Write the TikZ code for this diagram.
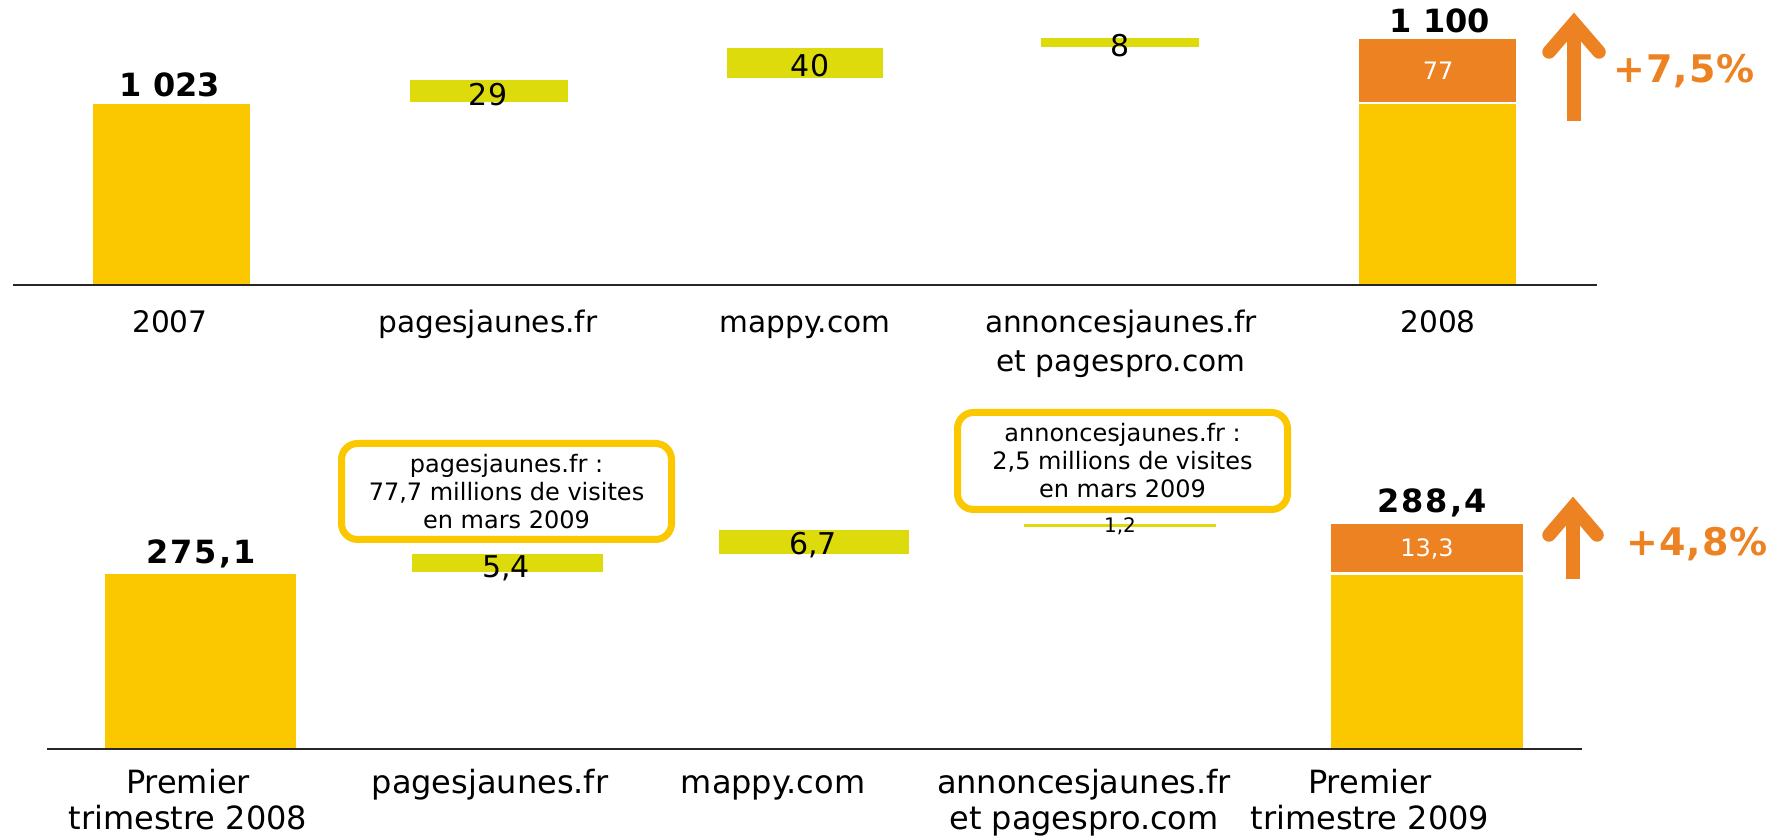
\documentclass[tikz,border=0pt]{standalone}
\usepackage{fontspec}
\setmainfont{DejaVu Sans}
\newfontfamily\spacedfont[LetterSpace=6]{DejaVu Sans}
\newfontfamily\pctfont[LetterSpace=3]{DejaVu Sans}
\definecolor{barYellow}{RGB}{251,200,0}
\definecolor{barLime}{RGB}{222,219,12}
\definecolor{barOrange}{RGB}{237,130,34}
\tikzset{
  catlabel/.style={anchor=base, align=center, inner sep=0pt, font=\fontsize{14.8}{19.5}\selectfont},
  catlabelb/.style={anchor=base, align=center, inner sep=0pt, font=\fontsize{16}{18}\selectfont},
  deltaval/.style={anchor=base, inner sep=0pt, font=\fontsize{15}{18}\selectfont},
  smallval/.style={anchor=base, inner sep=0pt, font=\fontsize{10}{12}\selectfont},
  totalval/.style={anchor=base, inner sep=0pt, font=\bfseries\fontsize{16}{19}\selectfont},
  totalvalsp/.style={anchor=base, inner sep=0pt, font=\spacedfont\bfseries\fontsize{16}{19}\selectfont},
  inbarval/.style={anchor=base, inner sep=0pt, text=white, font=\fontsize{12}{14}\selectfont},
  pctval/.style={anchor=base, inner sep=0pt, text=barOrange, font=\pctfont\bfseries\fontsize{19}{22}\selectfont},
  callout/.style={draw=barYellow, line width=3.5pt, rounded corners=8pt, fill=white, align=center, inner sep=0pt, font=\fontsize{12}{14}\selectfont},
  axisline/.style={line width=1.3pt, draw=black!85},
  growshaft/.style={draw=barOrange, line width=6.75pt},
  growhead/.style={draw=barOrange, line width=6.75pt, line cap=round, line join=miter},
}
\begin{document}
\begin{tikzpicture}[x=0.5pt, y=-0.5pt]
\useasboundingbox (0,0) rectangle (1775,838);
% ---------------- top chart ----------------
\fill[barYellow] (93,104) rectangle (250,284);
\fill[barLime] (410,80) rectangle (568,102);
\fill[barLime] (727,48) rectangle (883,78);
\fill[barLime] (1041,38) rectangle (1199,47);
\fill[barYellow] (1359,104) rectangle (1516,284);
\fill[barOrange] (1359,39) rectangle (1516,102);
\draw[axisline] (13,285) -- (1597,285);

\node[totalval] (t2007) at (170,97) {1 023};
\node[deltaval] (tpj) at (488,106) {29};
\node[deltaval] (tmap) at (810,77) {40};
\node[deltaval] (tann) at (1120,57) {8};
\node[inbarval] (tgrow) at (1438,80) {77};
\node[totalval] (t2008) at (1440,33) {1 100};

\coordinate (tarrowbot) at (1574,121);
\coordinate (tarrowtip) at (1574,23);
\coordinate (tarrowl) at (1549,52);
\coordinate (tarrowr) at (1599,52);
\draw[growshaft] (tarrowbot) -- ([yshift=-3pt]tarrowtip);
\draw[growhead] (tarrowl) -- (tarrowtip) -- (tarrowr);
\node[pctval] (tpct) at (1684,83) {+7,5\%};

\node[catlabel] (l2007) at (170,333) {2007};
\node[catlabel] (lpj) at (488,333) {pagesjaunes.fr};
\node[catlabel] (lmap) at (805,333) {mappy.com};
\node[catlabel] (lann) at (1121,372) {annoncesjaunes.fr\\et pagespro.com};
\node[catlabel] (l2008) at (1438,333) {2008};

% ---------------- bottom chart ----------------
\fill[barYellow] (105,574) rectangle (296,748);
\fill[barLime] (412,554) rectangle (603,572);
\fill[barLime] (719,530) rectangle (909,554);
\fill[barLime] (1024,524) rectangle (1216,527);
\fill[barYellow] (1331,575) rectangle (1523,748);
\fill[barOrange] (1331,524) rectangle (1523,572);
\draw[axisline] (47,749) -- (1582,749);

\node[callout, minimum width=165pt, minimum height=48pt] (c1) at (506.5,491.5)
  {pagesjaunes.fr :\\77,7 millions de visites\\en mars 2009};
\node[callout, minimum width=165pt, minimum height=48.5pt] (c2) at (1122.5,461)
  {annoncesjaunes.fr :\\2,5 millions de visites\\en mars 2009};

\node[totalvalsp] (b2008) at (201,563) {275,1};
\node[deltaval] (bpj) at (506,577) {5,4};
\node[deltaval] (bmap) at (813,554) {6,7};
\node[smallval] (bann) at (1120,533) {1,2};
\node[inbarval] (bgrow) at (1427,557) {13,3};
\node[totalvalsp] (b2009) at (1432,513) {288,4};

\coordinate (barrowbot) at (1573,579);
\coordinate (barrowtip) at (1573,507);
\coordinate (barrowl) at (1549,535);
\coordinate (barrowr) at (1597,535);
\draw[growshaft] (barrowbot) -- ([yshift=-3pt]barrowtip);
\draw[growhead] (barrowl) -- (barrowtip) -- (barrowr);
\node[pctval] (bpct) at (1697,555) {+4,8\%};

\node[catlabelb] (lq1a) at (188,829) {Premier\\trimestre 2008};
\node[catlabelb] (lpj2) at (490,793) {pagesjaunes.fr};
\node[catlabelb] (lmap2) at (773,793) {mappy.com};
\node[catlabelb] (lann2) at (1084,829) {annoncesjaunes.fr\\et pagespro.com};
\node[catlabelb] (lq1b) at (1370,829) {Premier\\trimestre 2009};
\end{tikzpicture}
\end{document}
